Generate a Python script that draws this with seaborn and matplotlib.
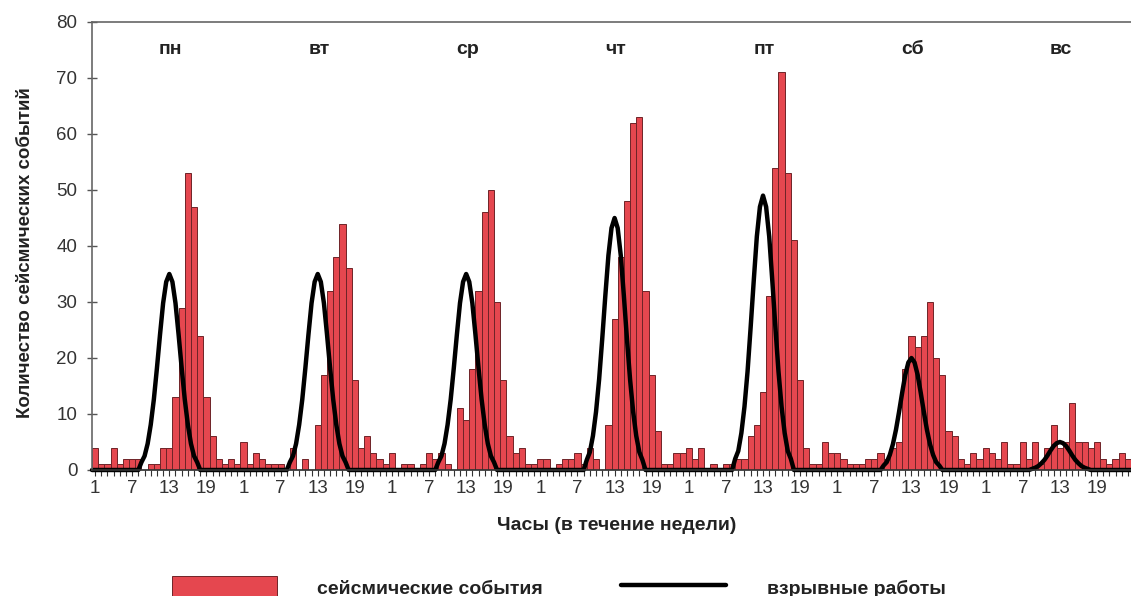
import numpy as np
import pandas as pd
import matplotlib
matplotlib.use("Agg")
import matplotlib.pyplot as plt
import seaborn as sns

# ---------------- data ----------------
day_names = ["пн", "вт", "ср", "чт", "пт", "сб", "вс"]
hour_ticks = [1, 7, 13, 19]

# seismic events per hour (hours 1..24) for each day
seis_mon = [4, 1, 1, 4, 1, 2, 2, 2, 0, 1, 1, 4, 4, 13, 29, 53, 47, 24, 13, 6, 2, 1, 2, 1]
seis_tue = [5, 1, 3, 2, 1, 1, 1, 0, 4, 0, 2, 0, 8, 17, 32, 38, 44, 36, 16, 4, 6, 3, 2, 1]
seis_wed = [3, 0, 1, 1, 0, 1, 3, 2, 3, 1, 0, 11, 9, 18, 32, 46, 50, 30, 16, 6, 3, 4, 1, 1]
seis_thu = [2, 2, 0, 1, 2, 2, 3, 1, 4, 2, 0, 8, 27, 38, 48, 62, 63, 32, 17, 7, 1, 1, 3, 3]
seis_fri = [4, 2, 4, 0, 1, 0, 1, 1, 2, 2, 6, 8, 14, 31, 54, 71, 53, 41, 16, 4, 1, 1, 5, 3]
seis_sat = [3, 2, 1, 1, 1, 2, 2, 3, 2, 4, 5, 18, 24, 22, 24, 30, 20, 17, 7, 6, 2, 1, 3, 2]
seis_sun = [4, 3, 2, 5, 1, 1, 5, 2, 5, 1, 4, 8, 4, 5, 12, 5, 5, 4, 5, 2, 1, 2, 3, 2]

# blasting curve, read at half-hour steps (hour of day), 0 elsewhere
blast_hours = [0.5, 8.0, 8.5, 9.0, 9.5, 10.0, 10.5, 11.0, 11.5, 12.0, 12.5, 13.0,
               13.5, 14.0, 14.5, 15.0, 15.5, 16.0, 16.5, 17.0, 17.5, 18.0, 24.5]
blast_mon = [0, 0, 1.4, 2.5, 4.7, 8.1, 12.6, 18.2, 24.2, 29.8, 33.6, 35.0,
             33.6, 29.8, 24.2, 18.2, 12.6, 8.1, 4.7, 2.5, 1.4, 0, 0]
blast_tue = [0, 0, 1.4, 2.5, 4.7, 8.1, 12.6, 18.2, 24.2, 29.8, 33.6, 35.0,
             33.6, 29.8, 24.2, 18.2, 12.6, 8.1, 4.7, 2.5, 1.4, 0, 0]
blast_wed = [0, 0, 1.4, 2.5, 4.7, 8.1, 12.6, 18.2, 24.2, 29.8, 33.6, 35.0,
             33.6, 29.8, 24.2, 18.2, 12.6, 8.1, 4.7, 2.5, 1.4, 0, 0]
blast_thu = [0, 0, 1.8, 3.2, 6.1, 10.4, 16.2, 23.4, 31.1, 38.3, 43.2, 45.0,
             43.2, 38.3, 31.1, 23.4, 16.2, 10.4, 6.1, 3.2, 1.8, 0, 0]
blast_fri = [0, 0, 2.0, 3.4, 6.6, 11.3, 17.6, 25.5, 33.8, 41.7, 47.0, 49.0,
             47.0, 41.7, 33.8, 25.5, 17.6, 11.3, 6.6, 3.4, 2.0, 0, 0]
blast_sat = [0, 0, 0.8, 1.4, 2.7, 4.6, 7.2, 10.4, 13.8, 17.0, 19.2, 20.0,
             19.2, 17.0, 13.8, 10.4, 7.2, 4.6, 2.7, 1.4, 0.8, 0, 0]
blast_sun = [0, 0, 0.2, 0.4, 0.7, 1.2, 1.8, 2.6, 3.5, 4.3, 4.8, 5.0,
             4.8, 4.3, 3.5, 2.6, 1.8, 1.2, 0.7, 0.4, 0.2, 0, 0]

seis_days = [seis_mon, seis_tue, seis_wed, seis_thu, seis_fri, seis_sat, seis_sun]
blast_days = [blast_mon, blast_tue, blast_wed, blast_thu, blast_fri, blast_sat, blast_sun]

SEIS_LABEL = "сейсмические события"
BLAST_LABEL = "взрывные работы"

# ---------------- tables ----------------
rows = []
for d, vals in enumerate(seis_days):
    for h, v in enumerate(vals, start=1):
        rows.append({"pos": d * 24 + h - 1, "count": v})
seis_df = pd.DataFrame(rows)

brows = []
for d, vals in enumerate(blast_days):
    for t, v in zip(blast_hours, vals):
        brows.append({"pos": d * 24 + t - 1, "val": v})
blast_df = pd.DataFrame(brows)

# ---------------- style ----------------
sns.set_theme(style="white")
plt.rcParams["font.family"] = ["Liberation Sans", "DejaVu Sans"]
txt_col = "#333333"
bar_col = "#E5474F"
edge_col = "#6E2428"

W, H = 1131, 596
fig = plt.figure(figsize=(W / 100, H / 100), dpi=100)
ax = fig.add_axes([92 / W, 1 - 470 / H, (1131 - 92) / W, (470 - 22) / H])

sns.barplot(data=seis_df, x="pos", y="count", native_scale=True, width=1.0,
            color=bar_col, edgecolor=edge_col, linewidth=0.7, saturation=1,
            ax=ax, label=SEIS_LABEL)
sns.lineplot(data=blast_df, x="pos", y="val", sort=False, estimator=None,
             color="black", linewidth=3.2, ax=ax, label=BLAST_LABEL)
for ln in ax.lines:
    ln.set_clip_on(False)
    ln.set_solid_capstyle("round")
    ln.set_solid_joinstyle("round")

n = 24 * len(seis_days)
ax.set_xlim(-0.5, n - 0.5)
ax.set_ylim(0, 80)
ax.set_yticks(np.arange(0, 81, 10))

ticks = list(range(n))
labels = [str((i % 24) + 1) if ((i % 24) + 1) in hour_ticks else "" for i in ticks]
ax.set_xticks(ticks)
ax.set_xticklabels(labels)

ax.tick_params(axis="x", length=4, width=0.8, color=txt_col, labelcolor=txt_col,
               labelsize=13.5, pad=3, direction="out", bottom=True)
ax.tick_params(axis="y", length=7, width=1.0, color="#555555", labelcolor=txt_col,
               labelsize=13.5, pad=7, direction="inout", left=True)

for side in ["left", "top"]:
    ax.spines[side].set_visible(True)
    ax.spines[side].set_color("#666666")
    ax.spines[side].set_linewidth(1.2)
ax.spines["right"].set_visible(False)
ax.spines["bottom"].set_color("#333333")

ax.set_xlabel("Часы (в течение недели)", fontsize=14, fontweight="bold",
              color="#222222", labelpad=12)
ax.xaxis.set_label_coords(0.505, -0.105)
ax.set_ylabel("Количество сейсмических событий", fontsize=13.5, fontweight="bold",
              color="#222222", labelpad=16)
ax.yaxis.set_label_coords(-0.0555, 0.485)

for d, name in enumerate(day_names):
    ax.text(d * 24 + 12.2, 75, name, ha="center", va="center",
            fontsize=14, fontweight="bold", color="#222222")

handles, lbls = ax.get_legend_handles_labels()
order = [lbls.index(SEIS_LABEL), lbls.index(BLAST_LABEL)]
if ax.get_legend():
    ax.get_legend().remove()
leg = fig.legend([handles[i] for i in order], [lbls[i] for i in order],
                 loc="lower left", bbox_to_anchor=(154 / W, -21 / H),
                 ncol=2, frameon=False, handlelength=5.4, handleheight=1.5,
                 handletextpad=2.1, columnspacing=4.0,
                 prop={"size": 14, "weight": "bold"})
for t in leg.get_texts():
    t.set_color("#222222")

fig.savefig("out.png", dpi=100)
